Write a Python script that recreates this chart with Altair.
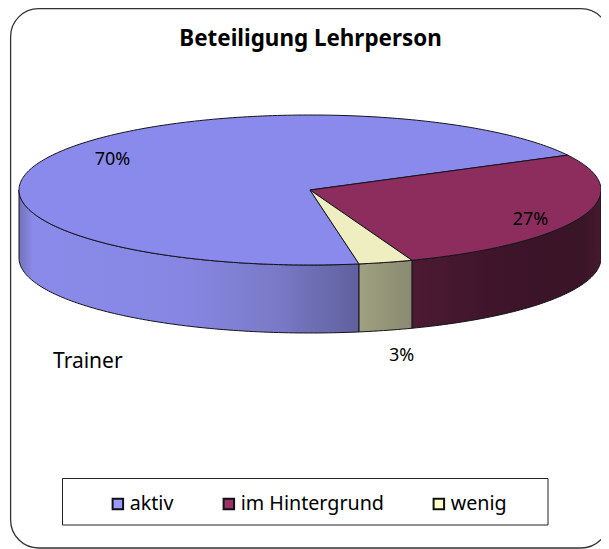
import math
import altair as alt
import pandas as pd

categories = ["aktiv", "im Hintergrund", "wenig"]
shares = [70, 27, 3]
percent_labels = ["70%", "27%", "3%"]
side_note = "Trainer"
chart_title = "Beteiligung Lehrperson"

legend_colors = ["#9999ff", "#993366", "#ffffcc"]
top_colors = ["#8a8aec", "#8c2d5d", "#eeeec0"]
side_stops = [
    [(0, "#7272b8"), (0.04, "#8a8aea"), (0.5, "#8686e2"), (0.75, "#7a7ac8"), (1, "#60609e")],
    [(0, "#4c1a33"), (0.5, "#3d1429"), (0.9, "#3a1427"), (1, "#47192f")],
    [(0, "#a0a082"), (1, "#8a8a70")],
]

FONT = "Noto Sans"
W, H = 593, 541
CX, CY, A, B, DEPTH = 310, 190, 291, 75, 68
START = -80.3  # degrees, slices run clockwise

xs = alt.Scale(domain=[8, 601], range=[0, W], nice=False, zero=False)
ys = alt.Scale(domain=[549, 8], range=[H, 0], nice=False, zero=False)


def pt(t, drop=0):
    r = math.radians(t)
    return CX + A * math.cos(r), CY - B * math.sin(r) + drop


def arc(t0, t1, drop=0):
    n = max(2, int(abs(t1 - t0)) + 1)
    return [pt(t0 + (t1 - t0) * i / n, drop) for i in range(n + 1)]


def poly(points, fill):
    pts = points + [points[0]]
    df = pd.DataFrame({"x": [p[0] for p in pts], "y": [p[1] for p in pts], "i": range(len(pts))})
    return (
        alt.Chart(df)
        .mark_line(fill=fill, stroke="#14141e", strokeWidth=1, strokeJoin="round", interpolate="linear")
        .encode(
            x=alt.X("x:Q", scale=xs, axis=None),
            y=alt.Y("y:Q", scale=ys, axis=None),
            order=alt.Order("i:Q"),
        )
    )


def text_at(label, px, py, size=18, align="center", **kw):
    df = pd.DataFrame({"x": [px], "y": [py], "t": [label]})
    return (
        alt.Chart(df)
        .mark_text(font=FONT, fontSize=size, align=align, baseline="alphabetic", color="#000000", **kw)
        .encode(x=alt.X("x:Q", scale=xs, axis=None), y=alt.Y("y:Q", scale=ys, axis=None), text="t:N")
    )


frame = alt.Chart(pd.DataFrame({"a": [0]})).mark_rect(
    fill="#ffffff", stroke="#333333", strokeWidth=1.3, cornerRadius=28
).encode(x=alt.value(2.6), x2=alt.value(601), y=alt.value(0.7), y2=alt.value(540))

legend_box = alt.Chart(pd.DataFrame({"a": [0]})).mark_rect(
    fill="#ffffff", stroke="#222222", strokeWidth=1
).encode(x=alt.value(54.5), x2=alt.value(540), y=alt.value(470.5), y2=alt.value(517))

total = sum(shares)
ranges = []
t = START
for s in shares:
    ranges.append((t, t - 360 * s / total))
    t = ranges[-1][1]

sides, tops = [], []
for (t0, t1), stops, col in zip(ranges, side_stops, top_colors):
    # angles past a full turn are brought back to the front half of the pie
    if t0 < -270:
        w0, w1 = t0 + 360, t1 + 360
    else:
        w0, w1 = t0, t1
    lo, hi = max(min(w0, w1), -180), min(max(w0, w1), 0)
    if lo < hi:
        wall = arc(lo, hi) + arc(hi, lo, DEPTH)
        grad = alt.Gradient(
            gradient="linear",
            stops=[alt.GradientStop(offset=o, color=c) for o, c in stops],
            x1=0, x2=1, y1=0, y2=0,
        )
        sides.append(poly(wall, grad))
    tops.append(poly([(CX, CY)] + arc(t0, t1), col))

legend_df = pd.DataFrame({"cat": categories})
legend_layer = (
    alt.Chart(legend_df)
    .mark_square(size=0)
    .encode(
        color=alt.Color(
            "cat:N",
            sort=categories,
            scale=alt.Scale(domain=categories, range=legend_colors),
            legend=alt.Legend(
                title=None,
                orient="none",
                legendX=100,
                legendY=486,
                direction="horizontal",
                columns=3,
                columnPadding=45,
                symbolType="square",
                symbolSize=110,
                symbolStrokeColor="#111111",
                symbolStrokeWidth=2,
                symbolOpacity=1,
                labelFont=FONT,
                labelFontSize=19.7,
                labelColor="#000000",
                labelOffset=2,
                labelLimit=300,
                padding=0,
            ),
        )
    )
)

labels = [
    text_at(percent_labels[0], 112.5, 165),
    text_at(percent_labels[1], 530.5, 225),
    text_at(percent_labels[2], 401.5, 361),
    text_at(side_note, 53, 368, size=21, align="left"),
]

chart = (
    alt.layer(frame, legend_box, *sides, *tops, *labels, legend_layer)
    .properties(
        width=W,
        height=H,
        padding=0,
        autosize=alt.AutoSizeParams(type="none"),
        title=alt.TitleParams(
            chart_title,
            font=FONT,
            fontSize=22.4,
            fontWeight="bold",
            color="#000000",
            anchor="middle",
            dx=6,
            baseline="alphabetic",
            offset=-60,
        ),
    )
    .configure_view(stroke=None)
)

chart.save("out.html", embed_options={"renderer": "svg", "actions": False})
